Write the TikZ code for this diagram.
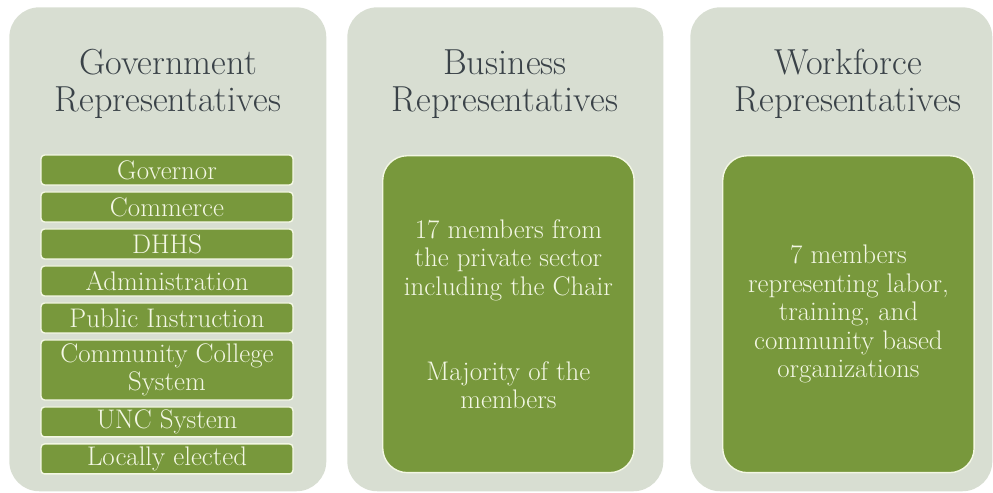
\documentclass[tikz,border=0pt]{standalone}
\usepackage{fontspec}
\usetikzlibrary{positioning}
\definecolor{panelbg}{RGB}{216,222,210}
\definecolor{olivebox}{RGB}{120,152,60}
\definecolor{creamtext}{RGB}{243,247,228}
\definecolor{titlegray}{RGB}{58,66,72}
\tikzset{
    panel/.style={
        fill=panelbg,
        rounded corners=17pt,
        anchor=north west,
        inner sep=0pt,
        minimum height=9.68cm
    },
    % titles on top of each panel
    paneltitle/.style={
        titlegray,
        align=center,
        font=\fontsize{20.6}{21}\selectfont
    },
    itembox/.style={
        fill=olivebox,
        draw=creamtext,
        line width=0.8pt,
        rounded corners=2pt,
        minimum width=5.04cm,
        minimum height=0.6cm,
        inner sep=0pt,
        outer sep=0pt,
        text=creamtext,
        align=center,
        font=\fontsize{15.3}{16}\selectfont
    },
    bigbox/.style={
        fill=olivebox,
        draw=creamtext,
        line width=0.8pt,
        rounded corners=14pt,
        anchor=north west,
        minimum width=5.03cm,
        minimum height=6.34cm,
        inner sep=0pt,
        text=creamtext,
        align=center,
        font=\fontsize{15.3}{16.2}\selectfont
    }
}
\begin{document}
\begin{tikzpicture}[x=0.02cm, y=-0.02cm]
    \useasboundingbox (0,0) rectangle (993,493);

    \node[panel, minimum width=6.34cm] (govpanel) at (9,7) {};
    \node[panel, minimum width=6.32cm] (buspanel) at (347,7) {};
    \node[panel, minimum width=6.04cm] (workpanel) at (690,7) {};

    \node[paneltitle] (govtitle) at (168,84) {Government\\Representatives};
    \node[paneltitle] (bustitle) at (505,84) {Business\\Representatives};
    \node[paneltitle] (worktitle) at (848,84) {Workforce\\Representatives};

    \node[itembox] (governor) at (167,170) {Governor};
    \node[itembox, below=0.14cm of governor] (commerce) {Commerce};
    \node[itembox, below=0.14cm of commerce] (dhhs) {DHHS};
    \node[itembox, below=0.14cm of dhhs] (admin) {Administration};
    \node[itembox, below=0.14cm of admin] (pubinstr) {Public Instruction};
    \node[itembox, below=0.14cm of pubinstr, minimum height=1.2cm] (commcoll) {Community College\\System};
    \node[itembox, below=0.14cm of commcoll] (unc) {UNC System};
    \node[itembox, below=0.14cm of unc] (local) {Locally elected};

    \node[bigbox] (busbox) at (382,155) {17 members from\\the private sector\\including the Chair\\[32pt]Majority of the\\members};
    \node[bigbox] (workbox) at (722,155) {7 members\\representing labor,\\training, and\\community based\\organizations};
\end{tikzpicture}
\end{document}
